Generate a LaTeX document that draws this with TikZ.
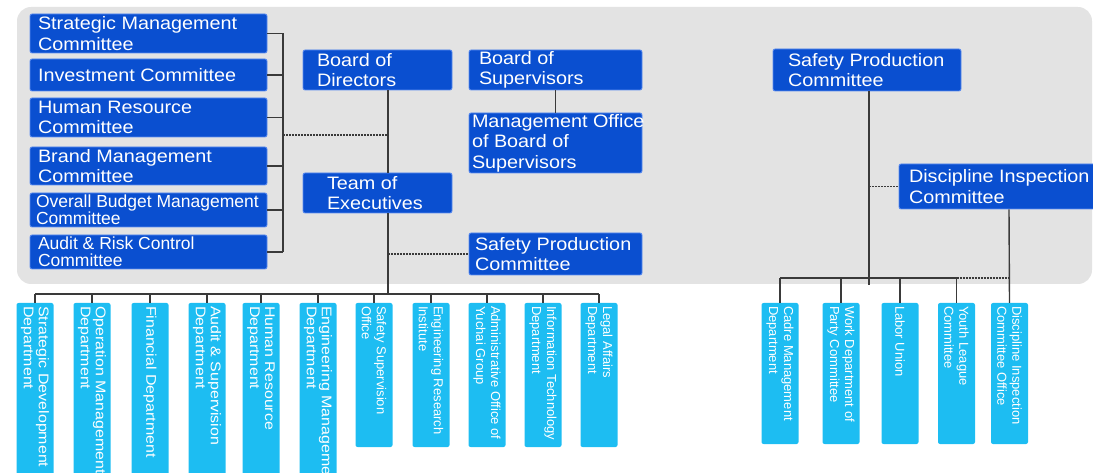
\documentclass[tikz,border=0pt]{standalone}
\usepackage{fontspec}
\setmainfont{Liberation Sans}
\newfontfamily\boxfont[FakeStretch=1.10]{Liberation Sans}
\newfontfamily\deptfont[FakeStretch=1.14]{Liberation Sans}
\definecolor{panelgray}{HTML}{E3E3E3}
\definecolor{unitblue}{HTML}{0A4FD0}
\definecolor{unitedge}{HTML}{5C8CF0}
\definecolor{deptcyan}{HTML}{1DBDF2}
\definecolor{linegray}{HTML}{3A3A3A}

\begin{document}
\begin{tikzpicture}[
	x=1pt,y=-1pt,
	unit/.style={rectangle,draw=unitedge,line width=0.8pt,fill=unitblue,text=white,
		rounded corners=2pt,inner ysep=0pt,align=flush left,
		font=\boxfont\fontsize{18}{20.5}\selectfont},
	committee/.style={unit,text width=221pt,inner xsep=8pt},
	slim/.style={font=\fontsize{17.5}{17}\selectfont},
	dept/.style={rectangle,fill=deptcyan,text=white,rounded corners=2pt,rotate=-90,
		inner xsep=3pt,inner ysep=0pt,minimum height=37pt,align=flush left,
		font=\fontsize{13}{15}\selectfont},
	wide/.style={font=\deptfont\fontsize{14}{15}\selectfont},
	link/.style={draw=linegray,line width=1.4pt},
	dotlink/.style={link,dash pattern=on 2pt off 1pt},
	]
	\useasboundingbox (0,0) rectangle (1093,473);
	\fill [panelgray,rounded corners=14pt] (17,7) rectangle (1092,284);

	% committees of the board
	\node [committee,minimum height=39pt] (smc) at (148.5,33.5) {Strategic Management\\Committee};
	\node [committee,minimum height=32pt] (inv) at (148.5,75) {Investment Committee};
	\node [committee,minimum height=39pt] (hrc) at (148.5,117.5) {Human Resource\\Committee};
	\node [committee,minimum height=38pt] (bmc) at (148.5,166) {Brand Management\\Committee};
	\node [committee,slim,text width=225pt,inner xsep=6pt,minimum height=34pt] (obm) at (148.5,210) {Overall Budget Management\\Committee};
	\node [committee,slim,minimum height=34pt] (arc) at (148.5,252) {Audit \& Risk Control\\Committee};

	% boards and executives
	\node [unit,text width=121pt,inner xsep=14pt,minimum height=40pt] (bod) at (377.5,70) {Board of\\Directors};
	\node [unit,text width=101pt,inner xsep=24pt,minimum height=40pt] (toe) at (377.5,193) {Team of\\Executives};
	\node [unit,text width=153pt,inner xsep=10pt,minimum height=40pt] (bos) at (555.5,70) {Board of\\Supervisors};
	\node [unit,text width=167pt,inner xsep=3pt,minimum height=60pt] (mob) at (555.5,143) {\mbox{Management Office}\\of Board of\\Supervisors};
	\node [unit,text width=161pt,inner xsep=6pt,minimum height=42pt] (spa) at (555.5,254) {Safety Production\\Committee};
	\node [unit,text width=158pt,inner xsep=15pt,minimum height=42pt] (spb) at (867,70) {Safety Production\\Committee};
	\node [unit,text width=200pt,inner xsep=10pt,minimum height=45pt] (dic) at (1009,186.5) {Discipline Inspection\\Committee};

	% departments
	\node [dept,wide,text width=194pt] (sdd) at (35,403) {Strategic Development\\Department};
	\node [dept,wide,text width=194pt] (omd) at (92,403) {Operation Management\\Department};
	\node [dept,wide,text width=194pt] (fid) at (150,403) {Financial Department};
	\node [dept,wide,text width=194pt] (asd) at (207,403) {Audit \& Supervision\\Department};
	\node [dept,wide,text width=194pt] (hrd) at (261,403) {Human Resource\\Department};
	\node [dept,wide,text width=194pt] (emd) at (318,403) {Engineering Management\\Department};
	\node [dept,text width=138pt] (sso) at (374,375) {Safety Supervision\\Office};
	\node [dept,text width=138pt] (eri) at (431,375) {Engineering Research\\Institute};
	\node [dept,text width=138pt] (aoy) at (487,375) {Administrative Office of\\Yuchai Group};
	\node [dept,text width=138pt] (itd) at (543,375) {Information Technology\\Department};
	\node [dept,text width=138pt] (lad) at (599,375) {Legal Affairs\\Department};
	\node [dept,text width=135pt] (cmd) at (780,373.5) {Cadre Management\\Department};
	\node [dept,text width=135pt] (wdp) at (841,373.5) {Work Department of\\Party Committee};
	\node [dept,text width=135pt] (lbu) at (900,373.5) {Labor Union};
	\node [dept,text width=135pt] (ylc) at (956.5,373.5) {Youth League\\Committee};
	\node [dept,text width=135pt] (dio) at (1009.5,373.5) {Discipline Inspection\\Committee Office};

	\coordinate (brk) at (283,135);
	\coordinate (trunk) at (388,294);
	\coordinate (rtrunk) at (869,285);
	\coordinate (rbus) at (869,278);

	% left bracket and trunk
	\draw [link] (smc.east) -- (smc.east -| brk) (inv.east) -- (inv.east -| brk)
		(hrc.east) -- (hrc.east -| brk) (bmc.east) -- (bmc.east -| brk)
		(obm.east) -- (obm.east -| brk) (arc.east) -- (arc.east -| brk);
	\draw [link] (smc.east -| brk) -- (arc.east -| brk);
	\draw [dotlink] (brk) -- (brk -| trunk);
	\draw [link] (bod.south -| trunk) -- (toe.north -| trunk);
	\draw [link] (toe.south -| trunk) -- (trunk);
	\draw [dotlink] (spa.west -| trunk) -- (spa.west);
	\draw [link] (bos) -- (mob);
	\draw [link] (sdd.west |- trunk) -- (lad.west |- trunk);
	\draw [link] (sdd.west) -- (sdd.west |- trunk) (omd.west) -- (omd.west |- trunk)
		(fid.west) -- (fid.west |- trunk) (asd.west) -- (asd.west |- trunk)
		(hrd.west) -- (hrd.west |- trunk) (emd.west) -- (emd.west |- trunk)
		(sso.west) -- (sso.west |- trunk) (eri.west) -- (eri.west |- trunk)
		(aoy.west) -- (aoy.west |- trunk) (itd.west) -- (itd.west |- trunk)
		(lad.west) -- (lad.west |- trunk);

	% right side
	\draw [link] (spb.south -| rtrunk) -- (rtrunk);
	\draw [dotlink] (dic.west -| rtrunk) -- (dic.west);
	\draw [link] (dic.south) -- (dio.west);
	\draw [link] (cmd.west |- rbus) -- (ylc.west |- rbus);
	\draw [dotlink] (ylc.west |- rbus) -- (dio.west |- rbus);
	\draw [link] (cmd.west) -- (cmd.west |- rbus) (wdp.west) -- (wdp.west |- rbus)
		(lbu.west) -- (lbu.west |- rbus) (ylc.west) -- (ylc.west |- rbus);
\end{tikzpicture}
\end{document}
